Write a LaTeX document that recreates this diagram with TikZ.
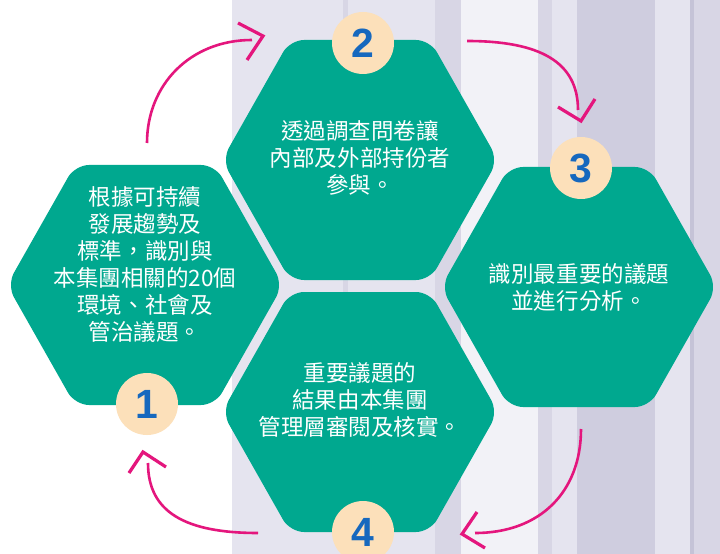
\documentclass[tikz,border=0pt]{standalone}
\usepackage{fontspec}
\newfontfamily\cjk{Noto Sans CJK TC}
\newfontfamily\numfont{Liberation Sans}
\definecolor{hexteal}{RGB}{0,168,143}
\definecolor{circcream}{RGB}{252,224,186}
\definecolor{numblue}{RGB}{22,104,190}
\definecolor{arrowpink}{RGB}{228,22,125}
\definecolor{bgA}{RGB}{229,228,239}
\definecolor{bgB}{RGB}{216,214,229}
\definecolor{bgC}{RGB}{242,242,247}
\definecolor{bgD}{RGB}{207,205,223}
\definecolor{bgE}{RGB}{197,195,215}
\newcommand\hexpath[1]{(#1) ++(0,-120) -- ++(70,0) -- ++(68,120) -- ++(-68,120) -- ++(-140,0) -- ++(-68,-120) -- ++(68,-120) -- cycle}
\begin{document}
\begin{tikzpicture}[x=1bp,y=-1bp,
  hexa/.style={fill=hexteal, rounded corners=14bp},
  numcirc/.style={circle, fill=circcream, minimum size=62bp, inner sep=0pt, text=numblue, font=\numfont\bfseries\fontsize{41}{41}\selectfont},
  body/.style={text=white, align=center, font=\cjk\fontsize{22.6}{27.1}\selectfont, inner sep=0pt},
  flow/.style={draw=arrowpink, line width=2.6bp},
  chev/.style={draw=arrowpink, line width=3.2bp, line join=miter},
]
\useasboundingbox (0,0) rectangle (720,554);
% background stripes
\fill[white] (0,0) rectangle (720,554);
\fill[bgA] (232,0) rectangle (435,554);
\fill[bgB] (343,0) rectangle (348,554);
\fill[bgB] (435,0) rectangle (461,554);
\fill[bgC] (461,0) rectangle (538,554);
\fill[bgB] (538,0) rectangle (552,554);
\fill[bgA] (552,0) rectangle (577,554);
\fill[bgD] (577,0) rectangle (655,554);
\fill[bgA] (655,0) rectangle (690,554);
\fill[bgE] (690,0) rectangle (694,554);
\fill[bgB] (694,0) rectangle (720,554);
% hexagon centres
\coordinate (h1) at (145,285);
\coordinate (h2) at (360,160);
\coordinate (h3) at (579,287);
\coordinate (h4) at (360,412);
\path[hexa] \hexpath{h1};
\path[hexa] \hexpath{h2};
\path[hexa] \hexpath{h3};
\path[hexa] \hexpath{h4};
% texts
\node[body] (t1) at (145,264.5) {根據可持續\\發展趨勢及\\標準，識別與\\本集團相關的20個\\環境、社會及\\管治議題。};
\node[body] (t2) at (360,157.5) {透過調查問卷讓\\內部及外部持份者\\參與。};
\node[body] (t3) at (579,287) {識別最重要的議題\\並進行分析。};
\node[body] (t4) at (360,400) {重要議題的\\結果由本集團\\管理層審閱及核實。};
% number circles
\node[numcirc] (n1) at (147,404) {1};
\node[numcirc] (n2) at (363,43) {2};
\node[numcirc] (n3) at (581,168) {3};
\node[numcirc] (n4) at (363,532) {4};
% connectors
\coordinate (a1s) at (147,143); \coordinate (a1e) at (252,40);
\coordinate (a2s) at (467,41);  \coordinate (a2e) at (578,110);
\coordinate (a3s) at (581,429); \coordinate (a3e) at (475,533);
\coordinate (a4s) at (258,533); \coordinate (a4e) at (148,463);
\draw[flow] (a1s) .. controls (147,85) and (190,40) .. (a1e);
\draw[flow] (a2s) .. controls (540,41) and (578,62) .. (a2e);
\draw[flow] (a3s) .. controls (581,492) and (540,533) .. (a3e);
\draw[flow] (a4s) .. controls (185,533) and (148,512) .. (a4e);
% chevron heads
\coordinate (c1) at (263,36);
\coordinate (c2) at (581,121);
\coordinate (c3) at (462,534);
\coordinate (c4) at (143,452);
\draw[chev] (238,23) -- (c1) -- (247,60);
\draw[chev] (558,107) -- (c2) -- (595,99);
\draw[chev] (477,512) -- (c3) -- (485,548);
\draw[chev] (129,473) -- (c4) -- (166,467);
\end{tikzpicture}
\end{document}
